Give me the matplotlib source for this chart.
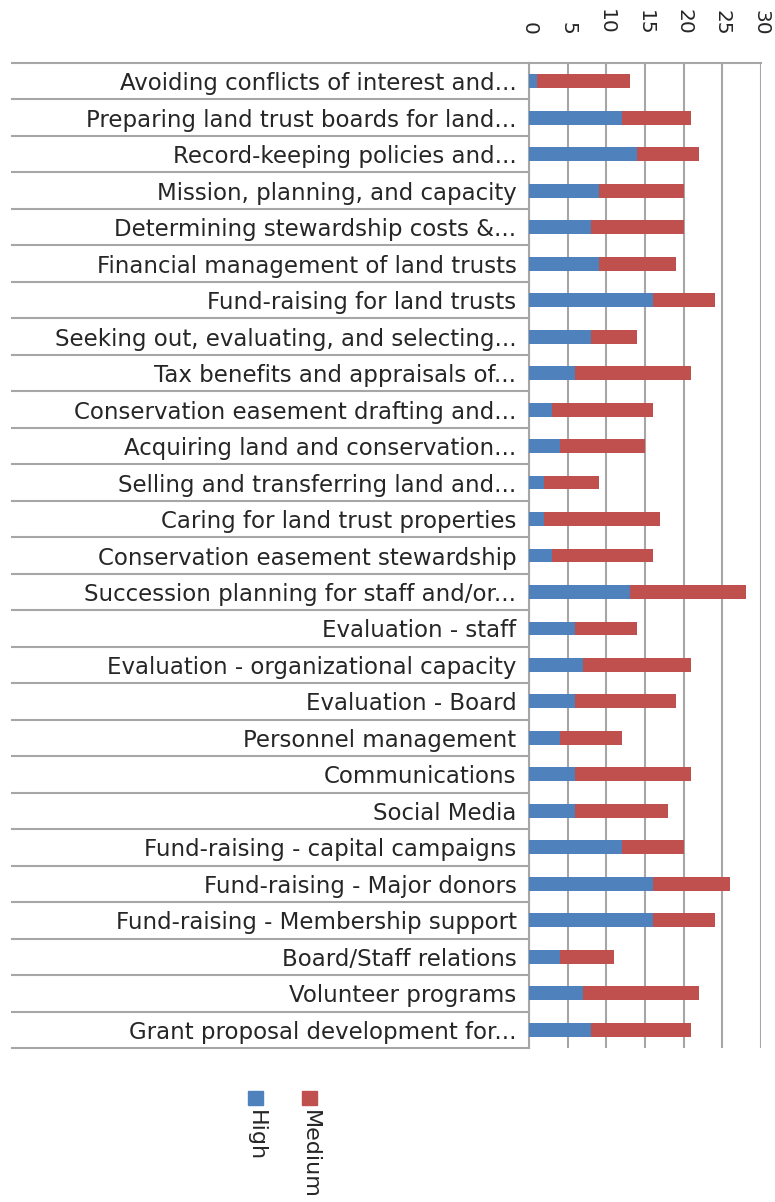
#!/usr/bin/env python3
import matplotlib
matplotlib.use("Agg")
import matplotlib.pyplot as plt
from matplotlib.patches import Rectangle

# ======== Data ========
CATEGORIES = [
    "Avoiding conflicts of interest and...",
    "Preparing land trust boards for land...",
    "Record-keeping policies and...",
    "Mission, planning, and capacity",
    "Determining stewardship costs &...",
    "Financial management of land trusts",
    "Fund-raising for land trusts",
    "Seeking out, evaluating, and selecting...",
    "Tax benefits and appraisals of...",
    "Conservation easement drafting and...",
    "Acquiring land and conservation...",
    "Selling and transferring land and...",
    "Caring for land trust properties",
    "Conservation easement stewardship",
    "Succession planning for staff and/or...",
    "Evaluation - staff",
    "Evaluation - organizational capacity",
    "Evaluation - Board",
    "Personnel management",
    "Communications",
    "Social Media",
    "Fund-raising - capital campaigns",
    "Fund-raising - Major donors",
    "Fund-raising - Membership support",
    "Board/Staff relations",
    "Volunteer programs",
    "Grant proposal development for...",
]
HIGH = [1, 12, 14, 9, 8, 9, 16, 8, 6, 3, 4, 2, 2, 3, 13, 6, 7, 6, 4, 6, 6, 12, 16, 16, 4, 7, 8]
MEDIUM = [12, 9, 8, 11, 12, 10, 8, 6, 15, 13, 11, 7, 15, 13, 15, 8, 14, 13, 8, 15, 12, 8, 10, 8, 7, 15, 13]
X_TICKS = [0, 5, 10, 15, 20, 25, 30]

# ======== Style ========
BLUE = "#4F81BD"
RED = "#C0504D"
GRID = "#A6A6A6"
TEXT = "#262626"
FONT = "DejaVu Sans"

W, H = 775, 1202


def main():
    fig = plt.figure(figsize=(W / 100, H / 100), dpi=100)
    left, right = 529 / W, 761 / W
    top, bottom = 1 - 63 / H, 1 - 1048 / H
    ax = fig.add_axes([left, bottom, right - left, top - bottom])

    n = len(CATEGORIES)
    ypos = list(range(n))
    ax.barh(ypos, HIGH, height=0.38, color=BLUE, label="High", zorder=3)
    ax.barh(ypos, MEDIUM, left=HIGH, height=0.38, color=RED, label="Medium", zorder=3)

    ax.set_xlim(0, 30)
    ax.set_ylim(n - 0.5, -0.5)

    ax.set_xticks(X_TICKS)
    ax.xaxis.tick_top()
    ax.tick_params(axis="x", length=0, pad=20, labelsize=14.5, labelcolor=TEXT)
    for lbl in ax.get_xticklabels():
        lbl.set_rotation(-90)
        lbl.set_fontfamily(FONT)
        lbl.set_va("bottom")
        lbl.set_ha("center")
    ax.grid(axis="x", color=GRID, linewidth=1.5, zorder=0)

    ax.set_yticks(ypos)
    ax.set_yticklabels(CATEGORIES, fontsize=16.5, color=TEXT, fontfamily=FONT)
    ax.tick_params(axis="y", length=0, pad=9)

    for side in ["right", "bottom"]:
        ax.spines[side].set_visible(False)
    for side in ["left", "top"]:
        ax.spines[side].set_color(GRID)
        ax.spines[side].set_linewidth(1.5)

    # separators between category labels
    x0 = (12 - 529) / (761 - 529)
    trans = ax.get_yaxis_transform()
    for b in range(n + 1):
        ax.plot([x0, 0], [b - 0.5, b - 0.5], color=GRID, linewidth=1.5,
                transform=trans, clip_on=False, zorder=1)

    # rotated legend
    for x_px, color, name in [(302, RED, "Medium"), (248, BLUE, "High")]:
        fig.patches.append(Rectangle((x_px / W, 1 - 1105 / H), 15 / W, 14 / H,
                                     transform=fig.transFigure, color=color))
        fig.text((x_px + 7.5) / W, 1 - 1110 / H, name, rotation=-90,
                 ha="center", va="top", fontsize=16, color=TEXT, fontfamily=FONT)

    fig.savefig("out.png", dpi=100)


if __name__ == "__main__":
    main()
